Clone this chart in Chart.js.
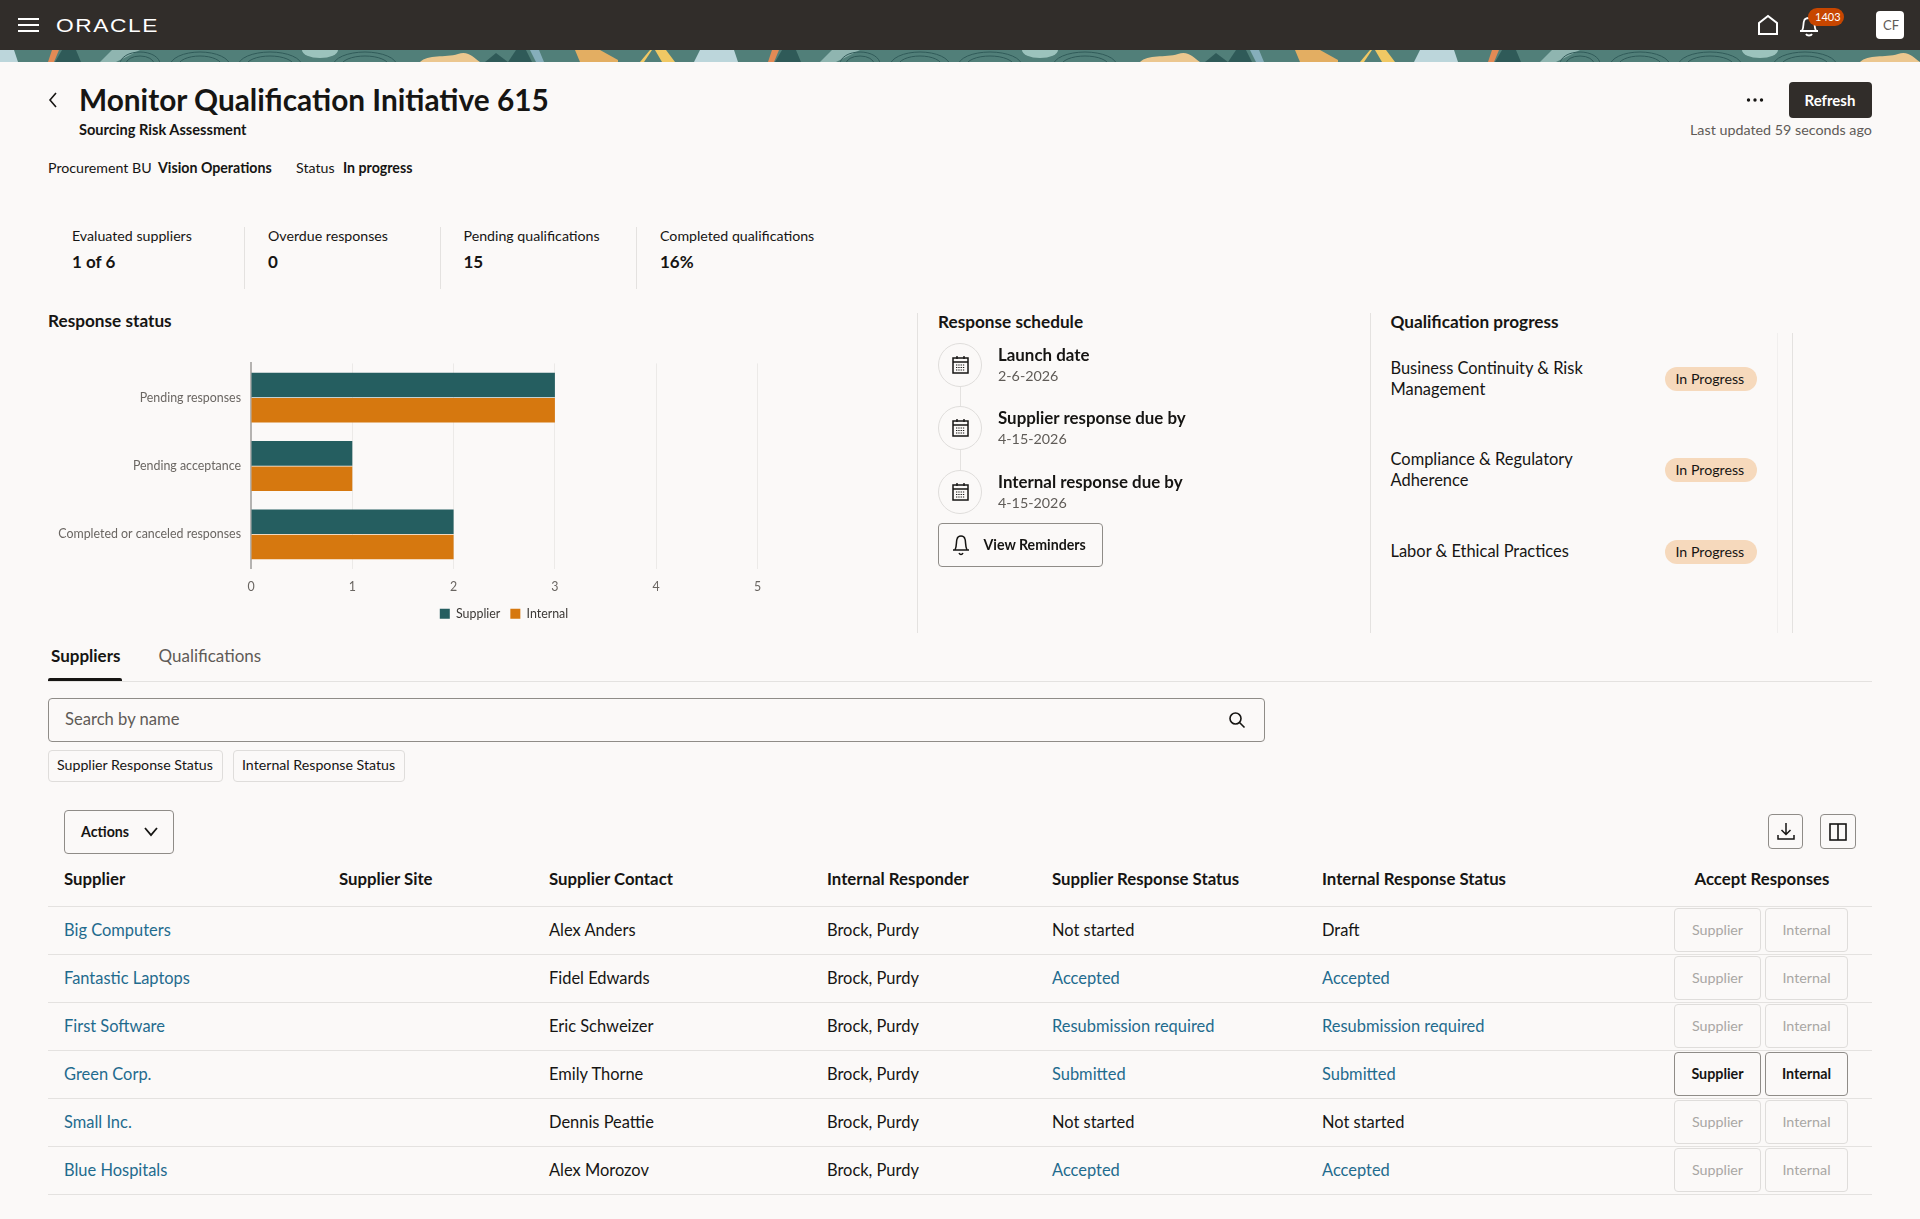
<!DOCTYPE html>
<html>
<head>
<meta charset="utf-8">
<title>Monitor Qualification Initiative 615</title>
<script src="https://cdn.jsdelivr.net/npm/chart.js@4"></script>
<style>
html, body { margin: 0; padding: 0; background: #fbf9f8; }
#page { position: relative; width: 1920px; height: 1219px; overflow: hidden; font-family: Lato, "Noto Sans", sans-serif; color: #161513; background: #fbf9f8; }
#page div, #page svg { position: absolute; }
.t { white-space: nowrap; transform: translateY(-50%); font-size: 14.2px; line-height: 20px; }
.b { font-weight: 700; }
.h { font-size: 17.2px; font-weight: 700; }
.sub { color: #5f5b57; font-size: 14.3px; }
.link { color: #1f6b8e; }
.cell { font-size: 16.45px; }
.head { font-size: 16.8px; font-weight: 700; }
.line { background: #e4e2e0; }
.box { box-sizing: border-box; border: 1px solid #8f8c88; border-radius: 4px; }
.soft { box-sizing: border-box; border: 1px solid #dfdddb; border-radius: 4px; }
.btn { display: flex; align-items: center; justify-content: center; font-size: 14.3px; padding-bottom: 2px; }
#chartWrap { left: 48px; top: 346px; width: 912px; height: 284px; }
</style>
</head>
<body>
<div id="page">
  <div style="left:0;top:0;width:1920px;height:50px;background:#312d2a"></div>
  <svg style="left:0;top:50px" width="1920" height="12">
    <defs>
      <pattern id="banner" patternUnits="userSpaceOnUse" width="720" height="12">
        <rect width="720" height="12" fill="#517f79"/>
        <path d="M0 0H14L18 12H0Z" fill="#bcd6db"/>
        <path d="M52 0H59L54 12H48Z" fill="#e38a55"/>
        <path d="M62 0H76L81 12H55Z" fill="#2f5a58"/>
        <path d="M112 0H140L116 12H100Z" fill="#8fb5b0"/>
        <g fill="none" stroke="#2f5a58" stroke-width="1">
          <ellipse cx="140" cy="14" rx="20" ry="12"/><ellipse cx="140" cy="14" rx="14" ry="8"/>
          <ellipse cx="200" cy="16" rx="30" ry="14"/><ellipse cx="200" cy="16" rx="22" ry="10"/>
          <ellipse cx="270" cy="16" rx="32" ry="14"/><ellipse cx="270" cy="16" rx="24" ry="10"/>
          <ellipse cx="365" cy="16" rx="32" ry="14"/><ellipse cx="365" cy="16" rx="24" ry="10"/>
        </g>
        <ellipse cx="320" cy="0" rx="18" ry="8" fill="#9cc3bd"/>
        <path d="M420 12C428 4 445 8 458 4C468 0 474 8 480 12Z" fill="#ecc78f"/>
        <path d="M485 12L496 3L508 12Z" fill="#2f5a58"/>
        <path d="M508 12L516 0H526L532 12Z" fill="#2f5a58"/>
        <path d="M530 0H539L544 12H536Z" fill="#86aebb"/>
        <path d="M575 0H600L618 10V12H580Z" fill="#e3ae62"/>
        <path d="M640 12L650 0H652L644 12Z" fill="#f0c864"/>
        <path d="M655 0H666L675 12H662Z" fill="#f0c864"/>
        <path d="M700 0H730L737 12H694Z" fill="#bcd6db"/>
      </pattern>
    </defs>
    <rect width="1920" height="12" fill="url(#banner)"/>
  </svg>
  <svg style="left:18px;top:17px" width="21" height="16"><path d="M0 2H21M0 8H21M0 14H21" stroke="#fff" stroke-width="2"/></svg>
  <svg style="left:1757px;top:14px" width="22" height="22" fill="none" stroke="#fff" stroke-width="2"><path d="M2 9L11 2L20 9V20H2Z"/></svg>
  <svg style="left:1798px;top:14px" width="22" height="24" fill="none" stroke="#fff" stroke-width="1.8"><path d="M2 17H20M4 17C6 13 5 10 6 7C7 3 15 3 16 7C17 10 16 13 18 17M8 20C9 22 13 22 14 20"/></svg>
  <div style="left:1808px;top:8px;width:36px;height:18px;background:#c74600;border-radius:9px"></div>
  <div style="left:1876px;top:11px;width:28px;height:28px;background:#fff;border-radius:4px"></div>
  <svg style="left:47px;top:91px" width="12" height="18" fill="none" stroke="#161513" stroke-width="1.6"><path d="M9 2L3 9L9 16"/></svg>
  <svg style="left:1746px;top:97px" width="18" height="6" fill="#161513"><circle cx="2.5" cy="3" r="1.7"/><circle cx="9" cy="3" r="1.7"/><circle cx="15.5" cy="3" r="1.7"/></svg>
  <div style="left:1789px;top:82px;width:83px;height:36px;background:#312d2a;border-radius:4px"></div>
  <div id="chartWrap"><canvas id="responseChart"></canvas></div>
</div>

<script>
// chart data
const categories = ["Pending responses", "Pending acceptance", "Completed or canceled responses"];
const supplierValues = [3, 1, 2];
const internalValues = [3, 1, 2];
const seriesNames = ["Supplier", "Internal"];

// table data
const tableHeaders = ["Supplier", "Supplier Site", "Supplier Contact", "Internal Responder", "Supplier Response Status", "Internal Response Status"];
const suppliers = ["Big Computers", "Fantastic Laptops", "First Software", "Green Corp.", "Small Inc.", "Blue Hospitals"];
const contacts = ["Alex Anders", "Fidel Edwards", "Eric Schweizer", "Emily Thorne", "Dennis Peattie", "Alex Morozov"];
const responders = ["Brock, Purdy", "Brock, Purdy", "Brock, Purdy", "Brock, Purdy", "Brock, Purdy", "Brock, Purdy"];
const supplierStatus = ["Not started", "Accepted", "Resubmission required", "Submitted", "Not started", "Accepted"];
const internalStatus = ["Draft", "Accepted", "Resubmission required", "Submitted", "Not started", "Accepted"];
const acceptEnabled = [false, false, false, true, false, false];

// summary data
const metricLabels = ["Evaluated suppliers", "Overdue responses", "Pending qualifications", "Completed qualifications"];
const metricValues = ["1 of 6", "0", "15", "16%"];
const scheduleLabels = ["Launch date", "Supplier response due by", "Internal response due by"];
const scheduleDates = ["2-6-2026", "4-15-2026", "4-15-2026"];
const qualificationLines = [["Business Continuity & Risk", "Management"], ["Compliance & Regulatory", "Adherence"], ["Labor & Ethical Practices"]];

const page = document.getElementById("page");

function put(x, y, text, cls, extra) {
  const el = document.createElement("div");
  el.className = "t " + (cls || "");
  el.textContent = text;
  el.style.left = x + "px";
  el.style.top = y + "px";
  if (extra) el.style.cssText += extra;
  page.appendChild(el);
  return el;
}

function rect(x, y, w, h, cls, text, extra) {
  const el = document.createElement("div");
  el.className = cls;
  el.style.cssText = `left:${x}px;top:${y}px;width:${w}px;height:${h}px;` + (extra || "");
  if (text) el.textContent = text;
  page.appendChild(el);
  return el;
}

function icon(x, y, w, h, body, extra) {
  const holder = document.createElement("div");
  holder.innerHTML = `<svg style="left:${x}px;top:${y}px" width="${w}" height="${h}" fill="none" stroke="#161513" ${extra || ""}>${body}</svg>`;
  page.appendChild(holder.firstChild);
}

// header
put(56, 26, "ORACLE", "", "font-family:'Liberation Sans';font-size:17.5px;letter-spacing:1.2px;color:#fff;transform:translateY(-50%) scaleX(1.3);transform-origin:left center");
put(1815, 17, "1403", "", "font-size:11px;color:#fff");
put(1883, 25, "CF", "", "font-size:13px;color:#5f5b57");
put(1804.5, 99.5, "Refresh", "b", "color:#fff;font-size:15px");
put(1690, 130, "Last updated 59 seconds ago", "sub");

// title block
put(79, 100, "Monitor Qualification Initiative 615", "b", "font-size:29.8px;line-height:34px");
put(79, 130, "Sourcing Risk Assessment", "b", "font-size:14.6px");
put(48, 168, "Procurement BU");
put(158, 168, "Vision Operations", "b");
put(296, 168, "Status");
put(343, 168, "In progress", "b");

// metric strip
const metricX = [72, 268, 463.5, 660];
metricLabels.forEach((label, i) => {
  put(metricX[i], 236, label);
  put(metricX[i], 262, metricValues[i], "b", "font-size:17px");
  if (i < 3) rect(metricX[i] + 172, 227, 1, 62, "line");
});

// panel headings and dividers
put(48, 321, "Response status", "h");
put(938, 321.5, "Response schedule", "h");
put(1390.5, 321.5, "Qualification progress", "h");
rect(917, 313, 1, 320, "line");
rect(1370, 313, 1, 320, "line");
rect(1777, 333, 1, 300, "", "", "background:#f1efee");
rect(1792, 333, 1, 300, "line");

// response schedule timeline
const circleY = [343, 406, 470];
const calendar = '<rect x="2" y="3" width="15" height="15" stroke-width="1.5"/><path d="M2 7H17" stroke-width="1.5"/><path d="M6 1V4M13 1V4" stroke-width="1.4"/><path d="M5 10H14M5 12.5H14M5 15H14" stroke-width="1.2" stroke-dasharray="1.3 1"/>';
scheduleLabels.forEach((label, i) => {
  rect(938, circleY[i], 44, 44, "soft", "", "border-radius:50%");
  icon(951, circleY[i] + 12, 19, 19, calendar);
  if (i < 2) rect(960, circleY[i] + 44, 1, circleY[i + 1] - circleY[i] - 44, "line");
  put(998, circleY[i] + 12, label, "cell", "font-weight:700;font-size:16.9px");
  put(998, circleY[i] + 33, scheduleDates[i], "sub");
});
rect(938, 523, 165, 44, "box");
icon(951, 533, 20, 24, '<path d="M2 17H18M4 17C6 13 5 9 6 6C7 2 13 2 14 6C15 9 14 13 16 17M8 20C9 22 11 22 12 20"/>', 'stroke-width="1.5"');
put(983.5, 545, "View Reminders", "b");

// qualification progress
const qualY = [367.7, 458.7, 550.7];
const pillY = [367, 458, 540];
qualificationLines.forEach((lines, i) => {
  lines.forEach((text, j) => put(1390.5, qualY[i] + j * 21, text, "cell"));
  rect(1664.5, pillY[i], 92, 24, "", "", "background:#f6d9bc;border-radius:12px");
  put(1675.5, pillY[i] + 12, "In Progress");
});

// tabs and filters
put(51, 655.5, "Suppliers", "h", "font-size:17px");
put(158.5, 655.5, "Qualifications", "h", "font-size:17px;font-weight:400;color:#5f5b57");
rect(48, 681, 1824, 1, "line");
rect(48, 678, 74, 3, "", "", "background:#161513;border-radius:2px 2px 0 0");
rect(48, 698, 1217, 44, "box");
put(65, 719, "Search by name", "cell", "color:#5f5b57;font-size:16.6px");
icon(1228, 711, 18, 18, '<circle cx="7.5" cy="7.5" r="5.5"/><path d="M11.5 11.5L16.5 16.5"/>', 'stroke-width="1.6"');
rect(48, 750, 175, 32, "soft");
put(57, 765, "Supplier Response Status");
rect(233, 750, 172, 32, "soft");
put(242, 765, "Internal Response Status");

// table toolbar
rect(64, 810, 110, 44, "box");
put(81, 832, "Actions", "b");
icon(143, 827, 16, 10, '<path d="M2 1L8 8L14 1"/>', 'stroke-width="1.8"');
rect(1768, 814, 35, 35, "box");
icon(1776, 822, 20, 20, '<path d="M10 1V12M5.5 8L10 12.5L14.5 8M2 13V17H18V13"/>', 'stroke-width="1.5"');
rect(1820, 814, 36, 35, "box");
icon(1829, 823, 18, 18, '<rect x="1" y="1" width="16" height="16"/><path d="M9 1V17"/>', 'stroke-width="1.6"');

// table
const columnX = [64, 339, 549, 827, 1052, 1322];
const rowTop = 906;
const rowHeight = 48;
tableHeaders.forEach((text, i) => put(columnX[i], 879, text, "head"));
put(1694.5, 879, "Accept Responses", "head");
rect(48, rowTop, 1824, 1, "line");
suppliers.forEach((name, r) => {
  const y = rowTop + r * rowHeight + 24;
  const isLink = s => s !== "Not started" && s !== "Draft";
  put(columnX[0], y - 0.5, name, "cell link");
  put(columnX[2], y - 0.5, contacts[r], "cell");
  put(columnX[3], y - 0.5, responders[r], "cell");
  put(columnX[4], y - 0.5, supplierStatus[r], "cell" + (isLink(supplierStatus[r]) ? " link" : ""));
  put(columnX[5], y - 0.5, internalStatus[r], "cell" + (isLink(internalStatus[r]) ? " link" : ""));
  rect(48, rowTop + (r + 1) * rowHeight, 1824, 1, "line");
  const style = acceptEnabled[r] ? "font-weight:700;color:#161513" : "color:#a9a7a4";
  const cls = acceptEnabled[r] ? "box btn" : "soft btn";
  rect(1674, y - 22, 87, 44, cls, seriesNames[0], style);
  rect(1765, y - 22, 83, 44, cls, seriesNames[1], style);
});

// response status chart
new Chart(document.getElementById("responseChart"), {
  type: "bar",
  data: {
    labels: categories,
    datasets: [
      { label: seriesNames[0], data: supplierValues, backgroundColor: "#255e60" },
      { label: seriesNames[1], data: internalValues, backgroundColor: "#d6780f" }
    ]
  },
  options: {
    indexAxis: "y",
    responsive: true,
    maintainAspectRatio: false,
    animation: false,
    categoryPercentage: 0.74,
    barPercentage: 0.97,
    plugins: {
      tooltip: { enabled: false },
      legend: {
        position: "bottom",
        labels: { boxWidth: 10, boxHeight: 10, padding: 10, color: "#3c3936", font: { family: "Lato", size: 12.4 } }
      }
    },
    scales: {
      x: {
        min: 0,
        max: 5,
        ticks: { stepSize: 1, padding: 11, color: "#6a6662", font: { family: "Lato", size: 12.4 } },
        grid: { color: "#eceae8", drawTicks: false },
        border: { display: false },
        afterFit(scale) { scale.height = 29; }
      },
      y: {
        ticks: { padding: 10, color: "#6a6662", font: { family: "Lato", size: 12.4 } },
        grid: { display: false, drawTicks: false },
        border: { color: "#b5b3b1", width: 2 },
        afterFit(scale) { scale.width = 203; }
      },
      // empty axis on the right keeps the plot and the centred legend in line
      spacer: {
        position: "right",
        ticks: { display: false },
        grid: { display: false, drawTicks: false },
        border: { display: false },
        afterFit(scale) { scale.width = 202.5; }
      }
    }
  }
});
</script>
</body>
</html>
